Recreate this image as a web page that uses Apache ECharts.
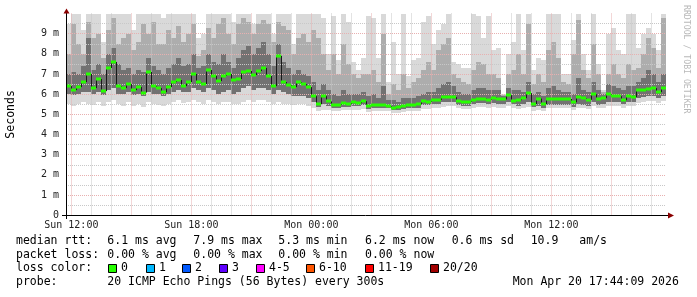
<!DOCTYPE html>
<html><head><meta charset="utf-8">
<script src="https://cdn.jsdelivr.net/npm/echarts@6/dist/echarts.min.js"></script>
<style>html,body{margin:0;padding:0;background:#fff}#c{width:697px;height:297px}</style>
</head><body><div id="c"></div>
<script>
// ---- time axis ----
const dayNames = ['Sun', 'Mon'];
const startHour = 11, startMinute = 44;      // Sun 11:44
const spanMinutes = 1800;                    // 30 hours
const stepMinutes = 15;                      // one smoke column
const xTickLabels = ['Sun 12:00', 'Sun 18:00', 'Mon 00:00', 'Mon 06:00', 'Mon 12:00'];
// ---- value axis (ms) ----
const yTickLabels = ['0', '1 m', '2 m', '3 m', '4 m', '5 m', '6 m', '7 m', '8 m', '9 m', ''];
const yMaxMs = 10;

// ---- median rtt (ms) per 15 min column ----
const median = [
  6.4,6.2,6.35,6.6,7.0,6.3,6.75,6.15,7.3,7.6, 6.4,6.3,6.5,6.2,6.35,6.08,7.1,6.4,6.3,6.1,
  6.35,6.6,6.7,6.4,6.6,7.0,6.58,6.5,7.2,6.9,
  6.65,6.9,7.0,6.7,6.75,7.1,7.15,6.95,7.15,7.3, 6.9,6.4,7.9,6.6,6.45,6.35,6.6,6.5,6.35,5.9,
  5.5,5.9,5.64,5.45,5.47,5.55,5.5,5.59,5.55,5.65,
  5.4,5.45,5.47,5.44,5.42,5.3,5.36,5.4,5.47,5.47, 5.52,5.64,5.62,5.72,5.72,5.85,5.87,5.85,5.65,5.59,
  5.62,5.72,5.78,5.78,5.72,5.83,5.78,5.74,5.95,5.65,
  5.7,5.8,6.05,5.5,5.78,5.5,5.76,5.75,5.76,5.76, 5.76,5.6,5.85,5.8,5.72,6.0,5.76,5.8,6.0,5.92,
  5.9,5.7,5.9,5.86,6.2,6.19,6.25,6.3,6.1,6.3
];
// ---- smoke (ms): highest ping, upper mid, upper core, lower core, lowest ping ----
const smokeMax = [
  9.5,10,10,9.2,10,10,10,8.6,10,10, 10,10,10,9.2,10,10,10,10,10,9.8, 10,10,10,10,10,10,8.8,9.0,10,10,
  10,10,10,9.6,10,10,10,9.5,10,10, 10,9.0,10,10,10,8.5,10,10,10,10, 10,9.8,8.0,9.9,7.7,10,9.6,7.6,7.2,7.8,
  9.9,9.8,7.8,10,6.6,8.6,7.0,10,6.9,7.7, 7.8,9.6,9.9,8.5,9.2,9.5,10,7.6,7.5,7.3, 7.3,10,9.9,8.8,9.9,8.2,8.3,6.0,8.0,8.6,
  10,8.2,10,7.2,7.8,7.7,10,10,10,7.0, 7.0,8.7,10,8.0,7.2,10,7.5,6.2,9.0,9.3, 8.2,8.0,10,10,8.3,9.0,9.3,9.0,8.2,10
];
const smokeHiMid = [
  8.0,9.5,8.5,8.0,9.6,8.8,9.0,7.8,9.2,9.8, 8.5,8.8,9.0,8.2,8.6,9.5,9.0,9.6,8.5,8.5, 9.2,8.8,9.4,8.6,9.0,9.5,7.9,8.2,9.3,8.8,
  9.5,9.8,9.0,8.5,9.5,9.8,9.6,9.0,9.5,9.7, 9.5,8.6,9.6,9.4,9.2,8.0,8.8,9.0,8.6,9.2, 8.8,8.0,7.2,8.0,7.0,8.5,7.5,7.0,6.8,7.0,
  7.0,7.2,6.6,9.0,6.0,6.5,6.2,7.0,6.3,6.6, 6.8,7.2,7.6,7.2,8.2,8.5,8.8,7.0,6.8,6.6, 6.5,7.2,7.6,7.5,7.0,7.0,6.8,5.95,7.0,7.2,
  8.0,7.0,9.5,6.5,7.0,6.6,8.2,8.6,7.8,6.6, 6.5,8.0,9.7,7.2,6.8,8.5,7.0,6.1,7.0,7.5, 7.0,6.8,7.5,7.2,7.3,8.0,8.8,8.3,7.3,9.8
];
const smokeHiCore = [
  7.0,7.1,7.0,7.4,8.8,7.2,7.5,7.0,8.0,8.3, 7.5,7.2,7.3,7.0,7.2,7.1,7.8,7.4,7.2,7.0, 7.3,7.5,7.8,7.4,7.5,8.0,7.3,7.4,8.0,7.6,
  7.5,8.0,7.6,7.3,7.8,8.2,8.4,8.0,8.3,8.6, 8.0,7.4,8.5,7.6,7.3,7.0,7.2,7.0,6.9,6.6, 6.2,6.5,6.2,6.0,5.9,6.2,6.0,6.0,6.0,6.1,
  5.9,6.0,5.8,6.4,5.7,5.7,5.6,5.8,5.8,5.8, 5.9,6.0,6.1,6.1,6.3,6.5,6.6,6.4,6.1,6.0, 6.0,6.2,6.3,6.3,6.2,6.2,6.2,5.9,6.3,6.2,
  6.2,6.1,6.6,6.0,6.1,5.9,6.3,6.4,6.2,6.1, 6.1,6.0,6.8,6.2,6.1,6.6,6.2,6.0,6.5,6.4, 6.3,6.2,6.4,6.4,6.6,6.8,7.2,7.0,6.6,7.0
];
const smokeLoCore = [
  6.0,5.95,6.0,6.1,6.1,6.0,6.1,5.95,6.2,6.3, 6.0,6.0,6.1,5.95,6.0,5.9,6.1,6.0,6.0,5.9, 6.0,6.1,6.2,6.1,6.1,6.3,6.2,6.1,6.3,6.2,
  6.0,6.1,6.2,6.0,6.1,6.3,6.4,6.2,6.3,6.3, 6.2,6.0,6.2,6.1,6.0,5.9,5.9,5.9,5.8,5.6, 5.35,5.5,5.4,5.3,5.3,5.35,5.35,5.4,5.4,5.45,
  5.25,5.3,5.3,5.3,5.3,5.2,5.2,5.25,5.3,5.3, 5.3,5.45,5.45,5.5,5.5,5.6,5.6,5.6,5.45,5.4, 5.4,5.5,5.55,5.55,5.5,5.55,5.5,5.5,5.6,5.5,
  5.4,5.5,5.6,5.35,5.4,5.3,5.45,5.45,5.45,5.45, 5.45,5.35,5.5,5.45,5.4,5.6,5.45,5.5,5.6,5.6, 5.6,5.5,5.6,5.6,5.8,5.85,5.9,5.9,5.8,5.9
];
const smokeMin = [
  5.5,5.4,5.5,5.6,5.5,5.45,5.6,5.4,5.6,5.7, 5.5,5.4,5.6,5.4,5.5,5.35,5.6,5.5,5.45,5.4, 5.5,5.6,5.7,5.55,5.6,5.7,5.6,5.5,5.7,5.6,
  5.5,5.6,5.6,5.5,5.5,5.6,5.7,5.6,5.7,5.7, 5.6,5.5,5.6,5.5,5.5,5.45,5.5,5.5,5.4,5.3, 5.15,5.2,5.2,5.15,5.15,5.2,5.2,5.2,5.2,5.25,
  5.1,5.15,5.15,5.15,5.15,5.05,5.05,5.1,5.15,5.15, 5.15,5.25,5.25,5.3,5.3,5.35,5.4,5.4,5.3,5.25, 5.25,5.3,5.35,5.35,5.3,5.35,5.3,5.3,5.4,5.3,
  5.25,5.3,5.35,5.15,5.2,5.15,5.3,5.3,5.3,5.3, 5.3,5.2,5.3,5.3,5.25,5.4,5.3,5.3,5.4,5.4, 5.4,5.3,5.4,5.4,5.55,5.6,5.65,5.65,5.55,5.65
];

// ---- legend texts ----
const rttRow = ['median rtt:', '6.1 ms avg', '7.9 ms max', '5.3 ms min', '6.2 ms now', '0.6 ms sd', '10.9', 'am/s'];
const lossRow = ['packet loss:', '0.00 % avg', '0.00 % max', '0.00 % min', '0.00 % now'];
const lossLabels = ['0', '1', '2', '3', '4-5', '6-10', '11-19', '20/20'];
const lossColors = ['#26ff00', '#00b8ff', '#0059ff', '#5e00ff', '#ff00ff', '#ff5500', '#ff0000', '#a10000'];
const probeRow = ['probe:', '20 ICMP Echo Pings (56 Bytes) every 300s', 'Mon Apr 20 17:44:09 2026'];

// ---- layout / style ----
const FONT = 'DejaVu Sans Mono';
const G = { left: 66, top: 13.5, width: 600, height: 201.7 };
const C_LIGHT = '#d9d9d9', C_MID = '#adadad', C_DARK = '#727272';
const GRID_MINOR = '#c8c8c8', GRID_MAJOR = '#e8b0b0';
const DOT = [1, 1];

function pad(n) { return (n < 10 ? '0' : '') + n; }
const categories = [];
for (let m = 0; m <= spanMinutes; m++) {
  const t = startHour * 60 + startMinute + m;
  categories.push(dayNames[Math.floor(t / 1440)] + ' ' + pad(Math.floor((t % 1440) / 60)) + ':' + pad(t % 60));
}
const isHour = v => v.endsWith(':00');
const isMajor = v => isHour(v) && (+v.slice(4, 6)) % 3 === 0;
const halfSteps = [];
for (let k = 0; k <= yMaxMs * 2; k++) halfSteps.push(String(k / 2));

const smokeData = median.map((_, i) => [i * stepMinutes, smokeMin[i], smokeLoCore[i], smokeHiCore[i], smokeHiMid[i], smokeMax[i]]);
const medianData = median.map((v, i) => [i * stepMinutes, v]);

function colX(api, x) {
  return [Math.round(api.coord([x, 0])[0]), Math.round(api.coord([x + stepMinutes, 0])[0])];
}

const chart = echarts.init(document.getElementById('c'));
const txt = (t, x, y) => ({ type: 'text', x, y, style: { text: t, font: '11.5px ' + FONT, fill: '#000', verticalAlign: 'middle' } });
const legendGraphics = [];
const rttX = [16, 107.3, 193.3, 278.3, 365, 451.7, 530.7, 579.3];
rttRow.forEach((t, k) => legendGraphics.push(txt(t, rttX[k], 241)));
lossRow.forEach((t, k) => legendGraphics.push(txt(t, rttX[k], 255)));
legendGraphics.push(txt('loss color:', 16, 268.5));
const swX = [108.5, 146.5, 182.5, 219.5, 256.5, 306.5, 365.5, 430.5];
lossLabels.forEach((t, k) => {
  legendGraphics.push({ type: 'rect', shape: { x: swX[k], y: 264.5, width: 8, height: 8 }, style: { fill: lossColors[k], stroke: '#000', lineWidth: 1 } });
  legendGraphics.push(txt(t, swX[k] + 12.5, 268.5));
});
const probeX = [16, 107.3, 512.7];
probeRow.forEach((t, k) => legendGraphics.push(txt(t, probeX[k], 282.5)));

const axisGraphics = [
  { type: 'line', shape: { x1: 62, y1: 215.5, x2: 669, y2: 215.5 }, style: { stroke: '#000', lineWidth: 1 }, z: 10 },
  { type: 'line', shape: { x1: 66.5, y1: 219, x2: 66.5, y2: 12 }, style: { stroke: '#000', lineWidth: 1 }, z: 10 },
  { type: 'polygon', shape: { points: [[63.5, 13.5], [69.5, 13.5], [66.5, 8.5]] }, style: { fill: '#8a0000' }, z: 10 },
  { type: 'polygon', shape: { points: [[668, 212.5], [668, 218.5], [674, 215.5]] }, style: { fill: '#8a0000' }, z: 10 },
  { type: 'text', x: 686, y: 5, rotation: -Math.PI / 2, style: { text: 'RRDTOOL / TOBI OETIKER', font: '8.2px ' + FONT, fill: '#b8b8b8', verticalAlign: 'middle', align: 'left' } },
  { type: 'text', x: 11, y: 114.4, rotation: Math.PI / 2, style: { text: 'Seconds', font: '11.5px ' + FONT, fill: '#000', verticalAlign: 'middle', align: 'center' } }
];

chart.setOption({
  animation: false,
  backgroundColor: '#fff',
  grid: { left: G.left, top: G.top, width: G.width, height: G.height, containLabel: false },
  xAxis: [
    { type: 'category', data: categories, boundaryGap: false, position: 'bottom',
      axisLine: { show: false }, axisTick: { show: false },
      axisLabel: { interval: (i, v) => xTickLabels.indexOf(v) >= 0, formatter: v => v, margin: 5,
        fontFamily: FONT, fontSize: 10, color: '#222' },
      splitLine: { show: true, interval: (i, v) => isHour(v) && !isMajor(v), lineStyle: { color: GRID_MINOR, type: DOT, width: 1 } } },
    { type: 'category', data: categories, boundaryGap: false, position: 'bottom',
      axisLine: { show: false }, axisTick: { show: false }, axisLabel: { show: false },
      splitLine: { show: true, interval: (i, v) => isMajor(v), lineStyle: { color: GRID_MAJOR, type: DOT, width: 1 } } }
  ],
  yAxis: [
    { type: 'value', min: 0, max: yMaxMs, position: 'left', show: false },
    { type: 'category', data: halfSteps, boundaryGap: false, position: 'left',
      axisLine: { show: false }, axisTick: { show: false }, axisLabel: { show: false },
      splitLine: { show: true, interval: i => i % 2 === 1, lineStyle: { color: GRID_MINOR, type: DOT } } },
    { type: 'category', data: yTickLabels, boundaryGap: false, position: 'left',
      axisLine: { show: false }, axisTick: { show: false },
      axisLabel: { interval: 0, margin: 7, fontFamily: FONT, fontSize: 10, color: '#222' },
      splitLine: { show: true, interval: i => i > 0 && i < 10, lineStyle: { color: GRID_MAJOR, type: DOT } } }
  ],
  graphic: axisGraphics.concat(legendGraphics),
  series: [
    { type: 'custom', xAxisIndex: 0, yAxisIndex: 0, z: -1, clip: true, data: smokeData,
      encode: { x: 0, y: [1, 2, 3, 4, 5] },
      renderItem: (params, api) => {
        const x = api.value(0);
        const [x0, x1] = colX(api, x);
        const Y = v => Math.round(api.coord([x, v])[1]);
        const rect = (lo, hi, fill) => ({ type: 'rect', shape: { x: x0, y: Y(hi), width: x1 - x0, height: Y(lo) - Y(hi) }, style: { fill } });
        return { type: 'group', children: [
          rect(api.value(1), api.value(5), C_LIGHT),
          rect(api.value(2), api.value(4), C_MID),
          rect(api.value(2), api.value(3), C_DARK)
        ] };
      } },
    { type: 'custom', xAxisIndex: 0, yAxisIndex: 0, z: 5, data: medianData,
      encode: { x: 0, y: 1 },
      renderItem: (params, api) => {
        const x = api.value(0);
        const [x0, x1] = colX(api, x);
        const y = api.coord([x, api.value(1)])[1];
        const children = [];
        const i = params.dataIndex;
        if (i > 0) {
          const yp = api.coord([x, median[i - 1]])[1];
          children.push({ type: 'line', shape: { x1: x0 + 0.5, y1: yp, x2: x0 + 0.5, y2: y }, style: { stroke: '#1a1a1a', lineWidth: 1 } });
        }
        children.push({ type: 'rect', shape: { x: x0, y: Math.round(y) - 1.5, width: x1 - x0, height: 3 }, style: { fill: lossColors[0] } });
        return { type: 'group', children };
      } }
  ]
});
</script></body></html>
